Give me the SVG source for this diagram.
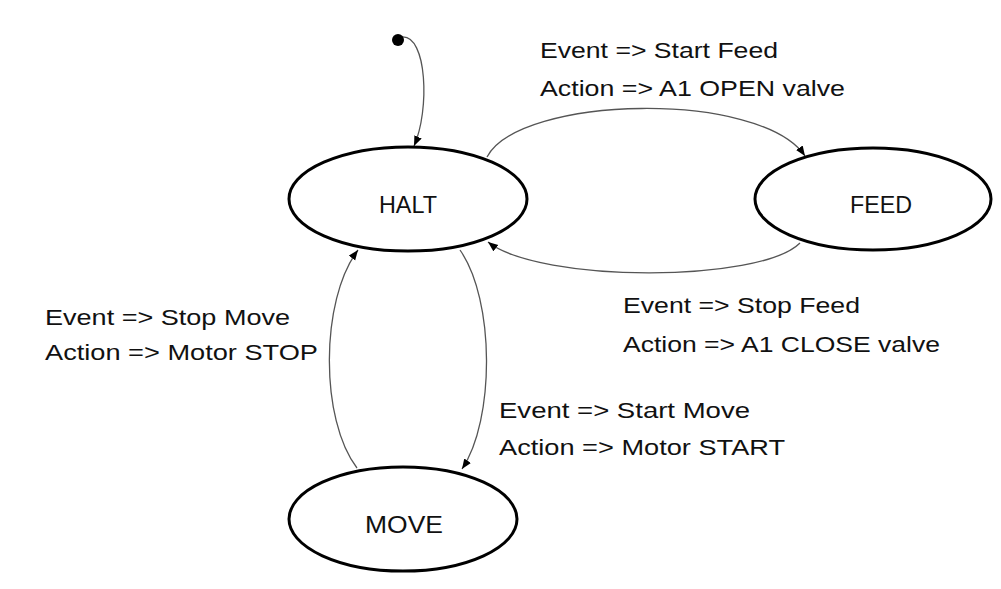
<svg xmlns="http://www.w3.org/2000/svg" width="1001" height="589" viewBox="0 0 1001 589">
<style>
.node{fill:#fff;stroke:#000;stroke-width:3}
.lbl{font-family:"Liberation Sans",Arial,sans-serif;font-size:22px;fill:#111}
.nl{font-family:"Liberation Sans",Arial,sans-serif;font-size:24px;fill:#111}
.edge{fill:none;stroke:#555;stroke-width:1.3}
</style>
<defs>
<marker id="arr" markerUnits="userSpaceOnUse" markerWidth="11" markerHeight="9" refX="10" refY="4" orient="auto">
<path d="M0,0 L10,4 L0,8 z" fill="#000"/>
</marker>
</defs>
<rect width="1001" height="589" fill="#fff"/>
<g id="connectors">
<path class="edge" d="M402,37 C427,35 430,110 414,146" marker-end="url(#arr)"/>
<path class="edge" d="M487,157 C520,95 760,90 805,156" marker-end="url(#arr)"/>
<path class="edge" d="M800,243 C760,283 540,283 488,242" marker-end="url(#arr)"/>
<path class="edge" d="M460,250 C495,300 495,420 462,469" marker-end="url(#arr)"/>
<path class="edge" d="M357,468 C320,420 320,300 358,250" marker-end="url(#arr)"/>
</g>
<g id="start"><circle cx="398" cy="40" r="6" fill="#000"/></g>
<g id="halt">
<ellipse class="node" cx="408" cy="199" rx="119" ry="52"/>
<text class="nl" x="379" y="213" textLength="58" lengthAdjust="spacingAndGlyphs">HALT</text>
</g>
<g id="feed">
<ellipse class="node" cx="873" cy="199" rx="118" ry="51"/>
<text class="nl" x="850" y="213" textLength="62" lengthAdjust="spacingAndGlyphs">FEED</text>
</g>
<g id="move">
<ellipse class="node" cx="403" cy="519" rx="114" ry="52"/>
<text class="nl" x="365" y="533" textLength="78" lengthAdjust="spacingAndGlyphs">MOVE</text>
</g>
<g id="labels">
<text class="lbl" x="540" y="58" textLength="238" lengthAdjust="spacingAndGlyphs">Event =&gt; Start Feed</text>
<text class="lbl" x="540" y="96" textLength="305" lengthAdjust="spacingAndGlyphs">Action =&gt; A1 OPEN valve</text>
<text class="lbl" x="623" y="313" textLength="237" lengthAdjust="spacingAndGlyphs">Event =&gt; Stop Feed</text>
<text class="lbl" x="623" y="352" textLength="317" lengthAdjust="spacingAndGlyphs">Action =&gt; A1 CLOSE valve</text>
<text class="lbl" x="45" y="325" textLength="245" lengthAdjust="spacingAndGlyphs">Event =&gt; Stop Move</text>
<text class="lbl" x="45" y="360" textLength="273" lengthAdjust="spacingAndGlyphs">Action =&gt; Motor STOP</text>
<text class="lbl" x="499" y="418" textLength="251" lengthAdjust="spacingAndGlyphs">Event =&gt; Start Move</text>
<text class="lbl" x="499" y="455" textLength="286" lengthAdjust="spacingAndGlyphs">Action =&gt; Motor START</text>
</g>
</svg>
